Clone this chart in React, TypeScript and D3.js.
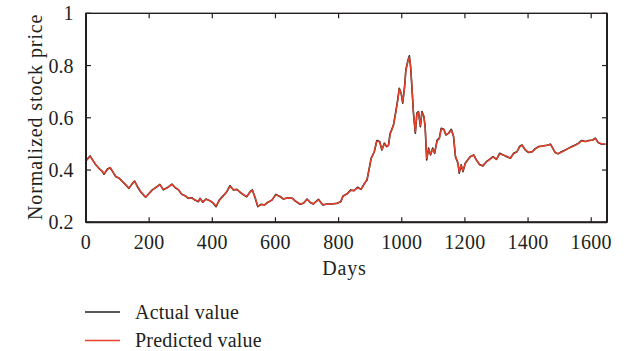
import React from "react";
import * as d3 from "d3";

const days = [2,13,20,31,41,52,57,68,76,83,94,105,115,126,136,147,154,163,173,184,189,200,210,221,234,245,258,272,282,293,303,314,324,335,345,356,361,370,380,393,403,412,422,435,446,456,467,478,488,499,509,520,527,536,544,555,565,576,589,601,615,625,641,654,662,678,689,700,710,720,736,750,763,779,795,807,814,826,839,849,860,871,881,890,898,903,913,921,930,937,945,952,958,963,968,974,982,988,992,998,1003,1009,1013,1020,1024,1028,1032,1037,1043,1048,1053,1059,1064,1070,1074,1079,1085,1091,1098,1104,1112,1119,1125,1133,1140,1148,1157,1164,1170,1178,1182,1188,1194,1201,1209,1217,1228,1236,1247,1257,1268,1278,1289,1300,1310,1321,1333,1344,1354,1365,1373,1381,1391,1402,1413,1423,1434,1446,1460,1471,1478,1486,1495,1506,1518,1529,1539,1550,1560,1569,1582,1592,1605,1613,1622,1632,1645];

const actualValues = [0.439,0.454,0.440,0.420,0.407,0.394,0.384,0.404,0.409,0.397,0.375,0.369,0.356,0.343,0.330,0.349,0.358,0.336,0.317,0.302,0.296,0.311,0.324,0.333,0.345,0.324,0.333,0.346,0.333,0.324,0.307,0.302,0.292,0.294,0.285,0.279,0.292,0.277,0.289,0.282,0.273,0.260,0.285,0.302,0.317,0.340,0.324,0.326,0.315,0.305,0.298,0.317,0.324,0.292,0.260,0.269,0.266,0.277,0.285,0.307,0.298,0.289,0.294,0.292,0.282,0.269,0.273,0.289,0.276,0.270,0.288,0.266,0.270,0.270,0.273,0.279,0.301,0.308,0.324,0.321,0.334,0.326,0.347,0.362,0.413,0.445,0.470,0.513,0.509,0.477,0.503,0.490,0.495,0.540,0.554,0.573,0.630,0.675,0.713,0.694,0.656,0.720,0.784,0.822,0.837,0.796,0.720,0.618,0.541,0.618,0.624,0.566,0.624,0.605,0.566,0.439,0.484,0.458,0.484,0.464,0.515,0.522,0.560,0.556,0.534,0.541,0.556,0.528,0.451,0.426,0.388,0.420,0.394,0.426,0.439,0.451,0.458,0.439,0.420,0.416,0.432,0.441,0.451,0.441,0.464,0.458,0.451,0.445,0.464,0.470,0.490,0.496,0.477,0.467,0.470,0.482,0.490,0.492,0.495,0.499,0.484,0.467,0.462,0.470,0.477,0.484,0.490,0.496,0.503,0.513,0.509,0.513,0.515,0.522,0.505,0.500,0.499];

const predictedValues = [0.437,0.452,0.441,0.421,0.405,0.395,0.386,0.402,0.410,0.398,0.377,0.368,0.357,0.344,0.331,0.347,0.357,0.338,0.318,0.303,0.297,0.310,0.323,0.334,0.344,0.326,0.332,0.345,0.334,0.325,0.308,0.301,0.293,0.293,0.286,0.280,0.291,0.278,0.288,0.283,0.274,0.262,0.283,0.301,0.318,0.338,0.325,0.325,0.316,0.306,0.299,0.316,0.322,0.294,0.262,0.268,0.267,0.276,0.286,0.305,0.299,0.290,0.293,0.291,0.283,0.270,0.274,0.287,0.277,0.271,0.286,0.268,0.269,0.271,0.272,0.280,0.299,0.309,0.322,0.322,0.332,0.327,0.345,0.364,0.410,0.443,0.471,0.510,0.508,0.479,0.500,0.492,0.494,0.536,0.552,0.575,0.626,0.672,0.710,0.696,0.660,0.716,0.780,0.819,0.832,0.799,0.724,0.622,0.546,0.614,0.622,0.570,0.620,0.607,0.569,0.444,0.480,0.460,0.481,0.466,0.511,0.520,0.557,0.555,0.536,0.540,0.553,0.530,0.455,0.428,0.392,0.418,0.397,0.424,0.438,0.450,0.457,0.440,0.421,0.417,0.431,0.440,0.450,0.442,0.462,0.458,0.452,0.446,0.462,0.470,0.488,0.495,0.478,0.468,0.470,0.481,0.489,0.492,0.495,0.498,0.485,0.468,0.463,0.469,0.476,0.484,0.489,0.495,0.502,0.511,0.509,0.512,0.515,0.520,0.506,0.501,0.499];

const xTicks = [0, 200, 400, 600, 800, 1000, 1200, 1400, 1600];
const yTicks = [0.2, 0.4, 0.6, 0.8, 1];
const seriesNames = ["Actual value", "Predicted value"];
const seriesColors = ["#231f20", "#e8412a"];

const W = 627, H = 351;
const M = { left: 86, right: 607, top: 13.3, bottom: 222.3 };
const FONT = "'Liberation Serif', 'Times New Roman', serif";
const AX = "#231f20";

export default function App() {
  const x = d3.scaleLinear().domain([0, 1650]).range([M.left, M.right]);
  const y = d3.scaleLinear().domain([0.2, 1]).range([M.bottom, M.top]);
  const line = d3.line<number>().x((_, i) => x(days[i])).y((v) => y(v));
  const series = [actualValues, predictedValues];
  const tl = 5;
  return (
    <svg width={W} height={H} style={{ position: "absolute", left: 0, top: 0, background: "#fff" }}>
      <g fontFamily={FONT} fill="#231f20">
        {series.map((s, k) => (
          <path key={k} d={line(s) || ""} fill="none" stroke={seriesColors[k]} strokeWidth={k === 0 ? 1.6 : 1.4} strokeLinejoin="round" />
        ))}
        <rect x={M.left} y={M.top} width={M.right - M.left} height={M.bottom - M.top} fill="none" stroke={AX} strokeWidth={1.4} />
        <line x1={M.left} x2={M.left} y1={M.top} y2={M.bottom} stroke={AX} strokeWidth={2} />
        <line x1={M.left} x2={M.right} y1={M.bottom} y2={M.bottom} stroke={AX} strokeWidth={2} />
        <line x1={M.right} x2={M.right} y1={M.top} y2={M.bottom} stroke={AX} strokeWidth={2} />
        {xTicks.map((t) => (
          <g key={"x" + t}>
            <line x1={x(t)} x2={x(t)} y1={M.bottom} y2={M.bottom - tl} stroke={AX} strokeWidth={1.2} />
            <line x1={x(t)} x2={x(t)} y1={M.top} y2={M.top + tl} stroke={AX} strokeWidth={1.2} />
            <text x={x(t)} y={M.bottom + 27} textAnchor="middle" fontSize={20} letterSpacing={0.3}>{t}</text>
          </g>
        ))}
        {yTicks.map((t) => (
          <g key={"y" + t}>
            <line x1={M.left} x2={M.left + tl} y1={y(t)} y2={y(t)} stroke={AX} strokeWidth={1.2} />
            <line x1={M.right} x2={M.right - tl} y1={y(t)} y2={y(t)} stroke={AX} strokeWidth={1.2} />
            <text x={73.5} y={y(t)} dy="0.35em" textAnchor="end" fontSize={20}>{t}</text>
          </g>
        ))}
        <text x={(M.left + M.right) / 2 - 2} y={275} textAnchor="middle" fontSize={20} letterSpacing={0.8}>Days</text>
        <text transform={`translate(42,${(M.top + M.bottom) / 2 - 1}) rotate(-90)`} textAnchor="middle" fontSize={20} letterSpacing={0.9}>Normalized stock price</text>
        {seriesNames.map((n, k) => (
          <g key={n}>
            <line x1={85} x2={120} y1={312 + k * 28.5} y2={312 + k * 28.5} stroke={seriesColors[k]} strokeWidth={1.3} />
            <text x={135} y={312 + k * 28.5} dy="0.33em" fontSize={20} letterSpacing={0.2}>{n}</text>
          </g>
        ))}
      </g>
    </svg>
  );
}
